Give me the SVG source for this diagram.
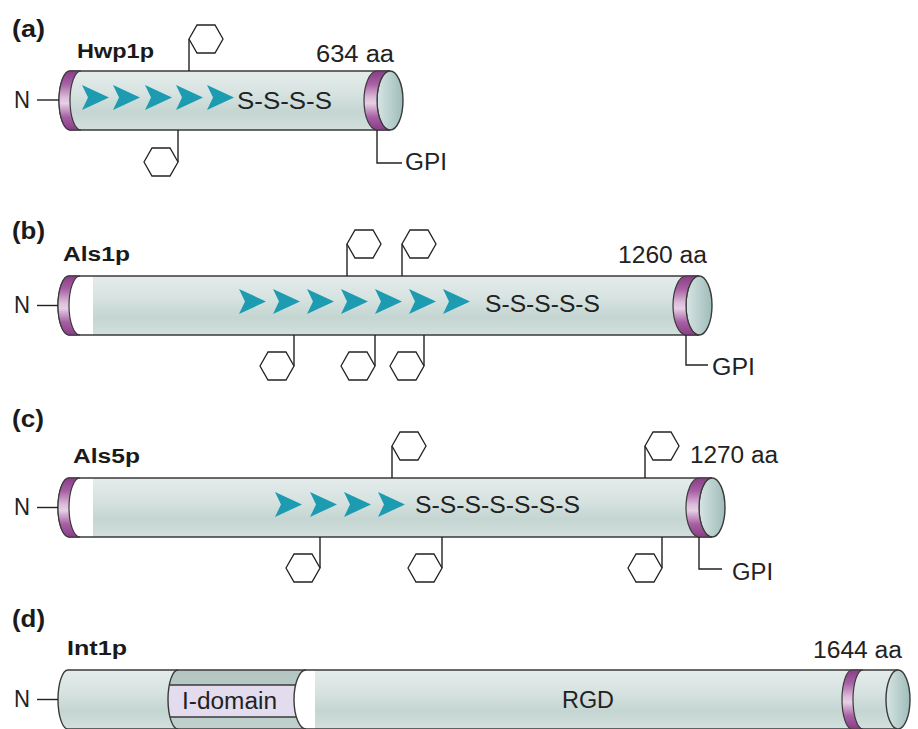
<svg xmlns="http://www.w3.org/2000/svg" width="918" height="729" viewBox="0 0 918 729">
  <style>
    .panel { font-family: "Liberation Sans", Arial, sans-serif; font-weight: bold; font-size: 24px; fill: #1a1a1a; }
    .name { font-family: "Liberation Sans", Arial, sans-serif; font-weight: bold; font-size: 20px; fill: #1a1a1a; }
    .lbl { font-family: "Liberation Sans", Arial, sans-serif; font-size: 23px; fill: #222; }
    .body { fill: url(#bodyG); }
    .hole { fill: #ffffff; }
    .ol { fill: none; stroke: #3a3a3a; stroke-width: 1.4; }
    .ring { fill: url(#ringG); stroke: #3a3a3a; stroke-width: 1.2; }
    .cap { fill: url(#capG); stroke: #3a3a3a; stroke-width: 1.4; }
    .link { fill: none; stroke: #222; stroke-width: 1.4; }
    .hex { fill: #ffffff; stroke: #222; stroke-width: 1.3; }
    .arrow { fill: #1c9bb1; }
  </style>
  <defs>
    <linearGradient id="bodyG" x1="0" y1="0" x2="0" y2="1">
      <stop offset="0" stop-color="#e4ecea"/>
      <stop offset="0.35" stop-color="#d8e4e2"/>
      <stop offset="0.7" stop-color="#c4d5d2"/>
      <stop offset="1" stop-color="#d3e0dd"/>
    </linearGradient>
    <linearGradient id="bandG" x1="0" y1="0" x2="0" y2="1">
      <stop offset="0" stop-color="#b4c6c2"/>
      <stop offset="1" stop-color="#c0d0cd"/>
    </linearGradient>
    <linearGradient id="ringG" x1="0" y1="0" x2="0" y2="1">
      <stop offset="0" stop-color="#8a3c87"/>
      <stop offset="0.22" stop-color="#a660a3"/>
      <stop offset="0.45" stop-color="#dcbcd9"/>
      <stop offset="0.55" stop-color="#e7cfe5"/>
      <stop offset="0.78" stop-color="#a660a3"/>
      <stop offset="1" stop-color="#8a3c87"/>
    </linearGradient>
    <linearGradient id="capG" x1="0" y1="0" x2="1" y2="0">
      <stop offset="0" stop-color="#d6e5e3"/>
      <stop offset="1" stop-color="#9fbcba"/>
    </linearGradient>
    <!-- notched arrowhead, 27 x 25 -->
    <path id="chev" d="M0,0 L27,12.5 L0,25 L6,12.5 Z"/>
    <!-- sugar hexagon, anchored at its left vertex -->
    <path id="hexL" d="M0,0 L8,-14 L26,-14 L34,0 L26,14 L8,14 Z"/>
    <clipPath id="bandClip">
      <path d="M178,670 A10,29.5 0 0 0 178,729 H306 A12,29.5 0 0 1 306,670 Z"/>
    </clipPath>
  </defs>

  <!-- panel letters -->
  <text class="panel" x="12" y="37" textLength="33" lengthAdjust="spacingAndGlyphs">(a)</text>
  <text class="panel" x="12" y="239" textLength="33" lengthAdjust="spacingAndGlyphs">(b)</text>
  <text class="panel" x="12" y="427" textLength="32" lengthAdjust="spacingAndGlyphs">(c)</text>
  <text class="panel" x="12" y="627" textLength="33" lengthAdjust="spacingAndGlyphs">(d)</text>

  <!-- (a) Hwp1p -->
  <g id="hwp1p">
    <path class="body" d="M70,71 H390 V130 H70 A11,29.5 0 0 1 70,71 Z"/>
    <path class="ol" d="M390,71 H70 A11,29.5 0 0 0 70,130 H390"/>
    <ellipse class="cap" cx="390" cy="100.5" rx="13" ry="29.5"/>
    <path class="ring" d="M377,71 A13,29.5 0 0 0 377,130 H390 A13,29.5 0 0 1 390,71 Z"/>
    <path class="ring" d="M70,71 A11,29.5 0 0 0 70,130 H81 A11,29.5 0 0 1 81,71 Z"/>
    <g class="arrow">
      <use href="#chev" x="82" y="85"/>
      <use href="#chev" x="113" y="85"/>
      <use href="#chev" x="145" y="85"/>
      <use href="#chev" x="176" y="85"/>
      <use href="#chev" x="207" y="85"/>
    </g>
    <text class="lbl" x="237" y="109" textLength="95" lengthAdjust="spacingAndGlyphs">S-S-S-S</text>
    <text class="name" x="77" y="58" textLength="77" lengthAdjust="spacingAndGlyphs">Hwp1p</text>
    <text class="lbl" x="316" y="62" textLength="78" lengthAdjust="spacingAndGlyphs">634 aa</text>
    <text class="lbl" x="14" y="108" textLength="16" lengthAdjust="spacingAndGlyphs">N</text>
    <text class="lbl" x="405" y="170" textLength="42" lengthAdjust="spacingAndGlyphs">GPI</text>
  </g>

  <!-- (b) Als1p -->
  <g id="als1p">
    <path class="hole" d="M69,276 H699 V335 H69 A11,29.5 0 0 1 69,276 Z"/>
    <rect class="body" x="93" y="276" width="606" height="59"/>
    <path class="ol" d="M699,276 H69 A11,29.5 0 0 0 69,335 H699"/>
    <ellipse class="cap" cx="699" cy="305.5" rx="13" ry="29.5"/>
    <path class="ring" d="M686,276 A13,29.5 0 0 0 686,335 H699 A13,29.5 0 0 1 699,276 Z"/>
    <path class="ring" d="M69,276 A11,29.5 0 0 0 69,335 H80 A11,29.5 0 0 1 80,276 Z"/>
    <g class="arrow">
      <use href="#chev" x="239" y="289"/>
      <use href="#chev" x="273" y="289"/>
      <use href="#chev" x="307" y="289"/>
      <use href="#chev" x="341" y="289"/>
      <use href="#chev" x="375" y="289"/>
      <use href="#chev" x="409" y="289"/>
      <use href="#chev" x="443" y="289"/>
    </g>
    <text class="lbl" x="485" y="312" textLength="115" lengthAdjust="spacingAndGlyphs">S-S-S-S-S</text>
    <text class="name" x="63" y="261" textLength="67" lengthAdjust="spacingAndGlyphs">Als1p</text>
    <text class="lbl" x="618" y="263" textLength="89" lengthAdjust="spacingAndGlyphs">1260 aa</text>
    <text class="lbl" x="14" y="313" textLength="16" lengthAdjust="spacingAndGlyphs">N</text>
    <text class="lbl" x="712" y="375" textLength="43" lengthAdjust="spacingAndGlyphs">GPI</text>
  </g>

  <!-- (c) Als5p -->
  <g id="als5p">
    <path class="hole" d="M69,478 H712 V537 H69 A11,29.5 0 0 1 69,478 Z"/>
    <rect class="body" x="93" y="478" width="619" height="59"/>
    <path class="ol" d="M712,478 H69 A11,29.5 0 0 0 69,537 H712"/>
    <ellipse class="cap" cx="712" cy="507.5" rx="13" ry="29.5"/>
    <path class="ring" d="M699,478 A13,29.5 0 0 0 699,537 H712 A13,29.5 0 0 1 712,478 Z"/>
    <path class="ring" d="M69,478 A11,29.5 0 0 0 69,537 H80 A11,29.5 0 0 1 80,478 Z"/>
    <g class="arrow">
      <use href="#chev" x="275" y="492"/>
      <use href="#chev" x="310" y="492"/>
      <use href="#chev" x="344" y="492"/>
      <use href="#chev" x="378" y="492"/>
    </g>
    <text class="lbl" x="415" y="513" textLength="165" lengthAdjust="spacingAndGlyphs">S-S-S-S-S-S-S</text>
    <text class="name" x="73" y="463" textLength="67" lengthAdjust="spacingAndGlyphs">Als5p</text>
    <text class="lbl" x="690" y="463" textLength="88" lengthAdjust="spacingAndGlyphs">1270 aa</text>
    <text class="lbl" x="14" y="515" textLength="16" lengthAdjust="spacingAndGlyphs">N</text>
    <text class="lbl" x="732" y="580" textLength="41" lengthAdjust="spacingAndGlyphs">GPI</text>
  </g>

  <!-- (d) Int1p -->
  <g id="int1p">
    <path class="body" d="M68,670 H898 V729 H68 A10,29.5 0 0 1 68,670 Z"/>
    <path fill="url(#bandG)" d="M178,670 A10,29.5 0 0 0 178,729 H306 A12,29.5 0 0 1 306,670 Z"/>
    <rect clip-path="url(#bandClip)" x="160" y="685" width="150" height="32" fill="#e2dcee"/>
    <path class="hole" d="M306,670 A12,29.5 0 0 0 306,729 H315 V670 Z"/>
    <path class="ol" d="M178,670 A10,29.5 0 0 0 178,729 M306,670 A12,29.5 0 0 0 306,729"/>
    <path class="ol" clip-path="url(#bandClip)" d="M160,685 H310 M160,717 H310"/>
    <path class="ol" d="M898,670 H68 A10,29.5 0 0 0 68,729 H898"/>
    <ellipse class="cap" cx="898" cy="699.5" rx="12" ry="29.5"/>
    <path class="ring" d="M852,670 A10,29.5 0 0 0 852,729 H863 A10,29.5 0 0 1 863,670 Z"/>
    <text class="lbl" x="182" y="709" textLength="95" lengthAdjust="spacingAndGlyphs">I-domain</text>
    <text class="lbl" x="562" y="708" textLength="52" lengthAdjust="spacingAndGlyphs">RGD</text>
    <text class="name" x="67" y="655" textLength="60" lengthAdjust="spacingAndGlyphs">Int1p</text>
    <text class="lbl" x="813" y="658" textLength="89" lengthAdjust="spacingAndGlyphs">1644 aa</text>
    <text class="lbl" x="14" y="707" textLength="16" lengthAdjust="spacingAndGlyphs">N</text>
  </g>

  <!-- N-terminal tails, glycan stalks and GPI anchors -->
  <g id="connectors">
    <g class="link">
      <path d="M37,100 H59"/>
      <path d="M37,305.5 H58"/>
      <path d="M37,507.5 H58"/>
      <path d="M37,699.5 H58"/>
      <path d="M377,130 V163 H402"/>
      <path d="M686,335 V365 H708"/>
      <path d="M699,537 V569 H722"/>
      <path d="M189,71 V39"/>
      <path d="M178,130 V162"/>
      <path d="M347,276 V244"/>
      <path d="M402,276 V244"/>
      <path d="M294,335 V366"/>
      <path d="M375,335 V366"/>
      <path d="M424,335 V366"/>
      <path d="M392,478 V446"/>
      <path d="M645,478 V446"/>
      <path d="M320,537 V568"/>
      <path d="M442,537 V568"/>
      <path d="M662,537 V568"/>
    </g>
    <g class="hex">
      <use href="#hexL" x="189" y="39"/>
      <use href="#hexL" x="144" y="162"/>
      <use href="#hexL" x="347" y="244"/>
      <use href="#hexL" x="402" y="244"/>
      <use href="#hexL" x="260" y="366"/>
      <use href="#hexL" x="341" y="366"/>
      <use href="#hexL" x="390" y="366"/>
      <use href="#hexL" x="392" y="446"/>
      <use href="#hexL" x="645" y="446"/>
      <use href="#hexL" x="286" y="568"/>
      <use href="#hexL" x="408" y="568"/>
      <use href="#hexL" x="628" y="568"/>
    </g>
  </g>
</svg>
